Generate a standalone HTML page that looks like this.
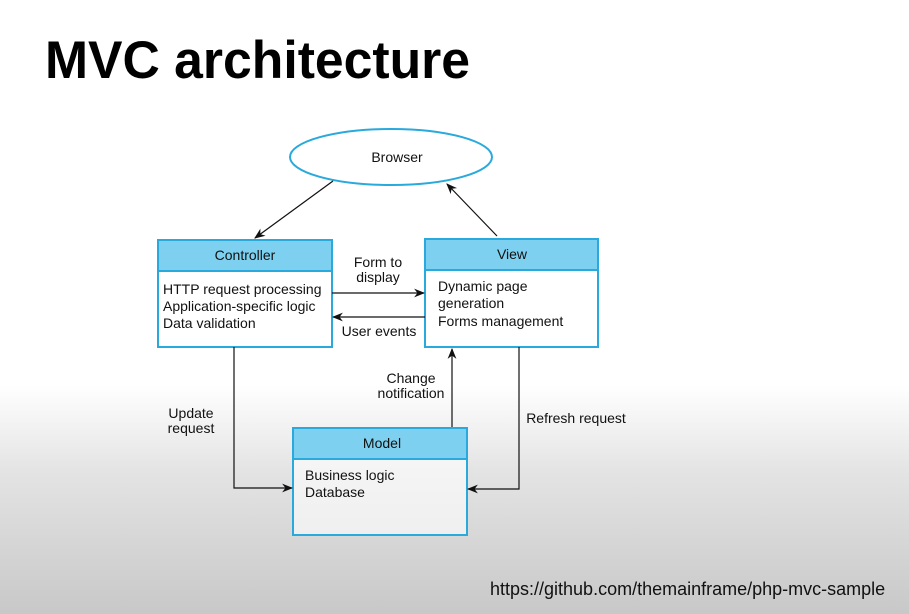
<!DOCTYPE html>
<html><head><meta charset="utf-8"><style>
html,body{margin:0;padding:0}
body{width:909px;height:614px;overflow:hidden;background:linear-gradient(to bottom,#fff 0px,#fff 385px,#e4e4e4 470px,#c8c8c8 614px);font-family:"Liberation Sans",sans-serif}
</style></head><body>
<svg width="909" height="614" viewBox="0 0 909 614" xmlns="http://www.w3.org/2000/svg" style="position:absolute;left:0;top:0">
<defs><marker id="a" viewBox="0 0 10 10" refX="9" refY="5" markerWidth="11" markerHeight="11" orient="auto" markerUnits="userSpaceOnUse"><path d="M0,1 L10,5 L0,9 L3,5 z" fill="#111"/></marker></defs>
<text x="45" y="78" font-size="53" font-weight="bold" fill="#000" font-family="Liberation Sans" textLength="425" lengthAdjust="spacingAndGlyphs">MVC architecture</text>
<ellipse cx="391" cy="157" rx="101" ry="28" fill="#fff" stroke="#29a9dc" stroke-width="2"/>
<text x="397" y="162" font-size="14" text-anchor="middle" fill="#111">Browser</text>
<g stroke="#29a9dc" stroke-width="2">
<rect x="158" y="240" width="174" height="107" fill="#fff"/><rect x="158" y="240" width="174" height="31" fill="#7dd0f0"/>
<rect x="425" y="239" width="173" height="108" fill="#fff"/><rect x="425" y="239" width="173" height="31" fill="#7dd0f0"/>
<rect x="293" y="428" width="174" height="107" fill="#fff" fill-opacity="0.6"/><rect x="293" y="428" width="174" height="31" fill="#7dd0f0"/>
</g>
<g font-size="14" fill="#111" text-anchor="middle">
<text x="245" y="260">Controller</text><text x="512" y="259">View</text><text x="382" y="448">Model</text>
</g>
<g font-size="14" fill="#111">
<text x="163" y="294">HTTP request processing</text><text x="163" y="311">Application-specific logic</text><text x="163" y="328">Data validation</text>
<text x="438" y="291">Dynamic page</text><text x="438" y="308">generation</text><text x="438" y="326">Forms management</text>
<text x="305" y="480">Business logic</text><text x="305" y="497">Database</text>
</g>
<g font-size="14" fill="#111" text-anchor="middle">
<text x="378" y="267">Form to</text><text x="378" y="282">display</text>
<text x="379" y="336">User events</text>
<text x="411" y="383">Change</text><text x="411" y="398">notification</text>
<text x="191" y="418">Update</text><text x="191" y="433">request</text>
<text x="576" y="423">Refresh request</text>
</g>
<g stroke="#111" stroke-width="1.2" fill="none" marker-end="url(#a)">
<line x1="333" y1="181" x2="255" y2="238"/>
<line x1="497" y1="236" x2="447" y2="184"/>
<line x1="332" y1="293" x2="424" y2="293"/>
<line x1="425" y1="317" x2="333" y2="317"/>
<polyline points="234,347 234,488 292,488"/>
<polyline points="519,347 519,489 468,489"/>
<line x1="452" y1="427" x2="452" y2="349"/>
</g>
<text x="490" y="595" font-size="18" fill="#111" font-family="Liberation Sans">https://github.com/themainframe/php-mvc-sample</text>
</svg>
</body></html>
